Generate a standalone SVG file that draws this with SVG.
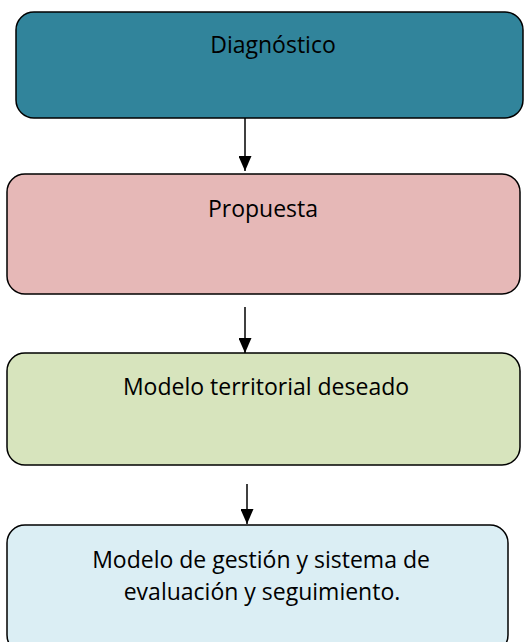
<svg xmlns="http://www.w3.org/2000/svg" width="531" height="642" viewBox="0 0 531 642">
<defs>
<marker id="ah" markerWidth="15" markerHeight="13" refX="15" refY="6.5" orient="auto" markerUnits="userSpaceOnUse">
<path d="M0,0 L15,6.5 L0,13 Z" fill="#000"/>
</marker>
<style>
.box{stroke:#000;stroke-width:1.5}
.t{font-family:"Open Sans","Liberation Sans",sans-serif;font-size:23px;fill:#000;text-anchor:middle}
.c{stroke:#000;stroke-width:1.5;fill:none}
</style>
</defs>
<rect width="531" height="642" fill="#fff"/>
<g id="n1"><rect class="box" x="16" y="12" width="507" height="106" rx="18" fill="#31849B"/><text class="t" x="273" y="53">Diagnóstico</text></g>
<g id="n2"><rect class="box" x="7" y="174" width="513" height="120" rx="18" fill="#E6B8B7"/><text class="t" x="263" y="217">Propuesta</text></g>
<g id="n3"><rect class="box" x="7" y="353" width="513" height="112" rx="18" fill="#D7E4BD"/><text class="t" x="266" y="395">Modelo territorial deseado</text></g>
<g id="n4"><rect class="box" x="7" y="525" width="501" height="128" rx="18" fill="#DBEEF4"/><text class="t" x="261" y="568">Modelo de gestión y sistema de</text><text class="t" x="262" y="600">evaluación y seguimiento.</text></g>
<g id="connectors">
<line class="c" x1="245" y1="118" x2="245" y2="171" marker-end="url(#ah)"/>
<line class="c" x1="245" y1="307" x2="245" y2="353" marker-end="url(#ah)"/>
<line class="c" x1="247" y1="484" x2="247" y2="524" marker-end="url(#ah)"/>
</g>
</svg>
